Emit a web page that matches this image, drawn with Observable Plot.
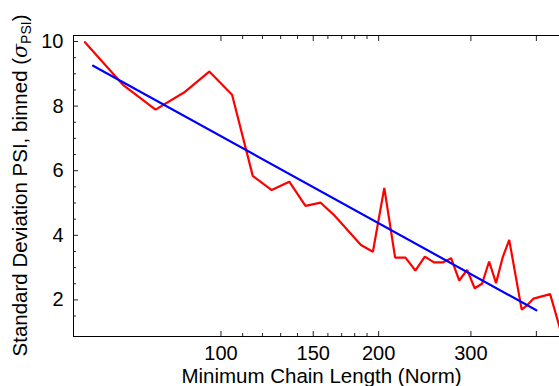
<!DOCTYPE html>
<html>
<head>
<meta charset="utf-8">
<script src="https://cdn.jsdelivr.net/npm/d3@7"></script>
<script src="https://cdn.jsdelivr.net/npm/@observablehq/plot@0.6"></script>
<style>
  html, body { margin: 0; padding: 0; background: #fff; }
  #chart { width: 559px; height: 386px; overflow: hidden; }
</style>
</head>
<body>
<div id="chart"></div>
<script>
// Binned data (red)
const binCenters = [55, 65, 75, 85, 95, 105, 115, 125, 135, 145, 155, 165, 185, 195, 205, 215, 225, 235, 245, 255, 265, 275, 285, 295, 305, 315, 325, 335, 345, 355, 375, 385, 395, 425, 445];
const sigmaPSI   = [9.98, 8.66, 7.89, 8.42, 9.07, 8.35, 5.84, 5.40, 5.66, 4.91, 5.01, 4.60, 3.70, 3.49, 5.47, 3.31, 3.31, 2.91, 3.34, 3.16, 3.16, 3.29, 2.60, 2.93, 2.36, 2.50, 3.19, 2.52, 3.32, 3.86, 1.70, 1.85, 2.04, 2.18, 1.05];
// Fit line (blue)
const fitX = [57, 400];
const fitY = [9.25, 1.68];
// Axes
const xDomain = [52.3, 442.8];
const yDomain = [0.867, 10.186];
const xMajorTicks = [100, 150, 200, 300, 400];
const xTickLabels = ["100", "150", "200", "300", ""];
const xMinorTicks = [110, 120, 130, 140, 160, 170, 180, 190];
const yMajorTicks = [2, 4, 6, 8, 10];
const yMinorTicks = [1.5, 2.5, 3, 3.5, 4.5, 5, 5.5, 6.5, 7, 7.5, 8.5, 9, 9.5];
const xTitle = "Minimum Chain Length (Norm)";
const yTitleMain = "Standard Deviation PSI, binned (";
const yTitleSym = "σ";
const yTitleSub = "PSI";
const yTitleEnd = ")";

const redData = binCenters.map((x, i) => ({x, y: sigmaPSI[i]}));
const fitData = fitX.map((x, i) => ({x, y: fitY[i]}));
const font = "'Liberation Sans', Arial, Helvetica, sans-serif";
const ink = "#222";

const plot = Plot.plot({
  width: 559,
  height: 386,
  marginLeft: 73,
  marginRight: 0,
  marginTop: 35,
  marginBottom: 50,
  style: {fontFamily: font, background: "#fff", color: "#000", overflow: "hidden"},
  x: {type: "log", domain: xDomain},
  y: {domain: yDomain},
  marks: [
    // frame
    Plot.ruleY([yDomain[0], yDomain[1]], {stroke: "#000", strokeWidth: 1}),
    Plot.ruleX([xDomain[0]], {stroke: "#000", strokeWidth: 1}),
    // inward ticks
    Plot.axisX({anchor: "bottom", ticks: xMajorTicks, tickSize: -5, fill: "none", stroke: ink, label: null}),
    Plot.axisX({anchor: "bottom", ticks: xMinorTicks, tickSize: -3, fill: "none", stroke: ink, label: null}),
    Plot.axisX({anchor: "top", ticks: xMajorTicks, tickSize: -5, fill: "none", stroke: ink, label: null}),
    Plot.axisX({anchor: "top", ticks: xMinorTicks, tickSize: -3, fill: "none", stroke: ink, label: null}),
    Plot.axisY({anchor: "left", ticks: yMajorTicks, tickSize: -5, fill: "none", stroke: ink, label: null}),
    Plot.axisY({anchor: "left", ticks: yMinorTicks, tickSize: -3, fill: "none", stroke: ink, label: null}),
    // tick labels
    Plot.axisX({anchor: "bottom", ticks: xMajorTicks, tickSize: 0, tickPadding: 9,
      tickFormat: d => xTickLabels[xMajorTicks.indexOf(d)], fontSize: 20, fill: "#000", label: null}),
    Plot.axisY({anchor: "left", ticks: yMajorTicks, tickSize: 0, tickPadding: 10,
      tickFormat: d => String(d), fontSize: 20, fill: "#000", label: null}),
    // data
    Plot.line(redData, {x: "x", y: "y", stroke: "#ff0000", strokeWidth: 2.2, clip: true, strokeLinejoin: "miter"}),
    Plot.line(fitData, {x: "x", y: "y", stroke: "#0000ff", strokeWidth: 2.2, clip: true}),
    // x title
    Plot.text([xTitle], {frameAnchor: "bottom", dx: 5, dy: 46, lineAnchor: "bottom", fontSize: 20.5, fill: "#000"})
  ]
});

document.getElementById("chart").appendChild(plot);

// y title with subscript
const svg = d3.select(plot);
const t = svg.append("text")
  .attr("transform", "translate(27,185.5) rotate(-90)")
  .attr("text-anchor", "middle")
  .attr("font-family", font)
  .attr("font-size", 20.5)
  .attr("fill", "#000");
t.append("tspan").text(yTitleMain);
t.append("tspan").attr("font-style", "italic").attr("font-family", "'DejaVu Serif', serif").text(yTitleSym);
t.append("tspan").attr("font-size", 14).attr("dy", 4).text(yTitleSub);
t.append("tspan").attr("dy", -4).text(yTitleEnd);
</script>
</body>
</html>
